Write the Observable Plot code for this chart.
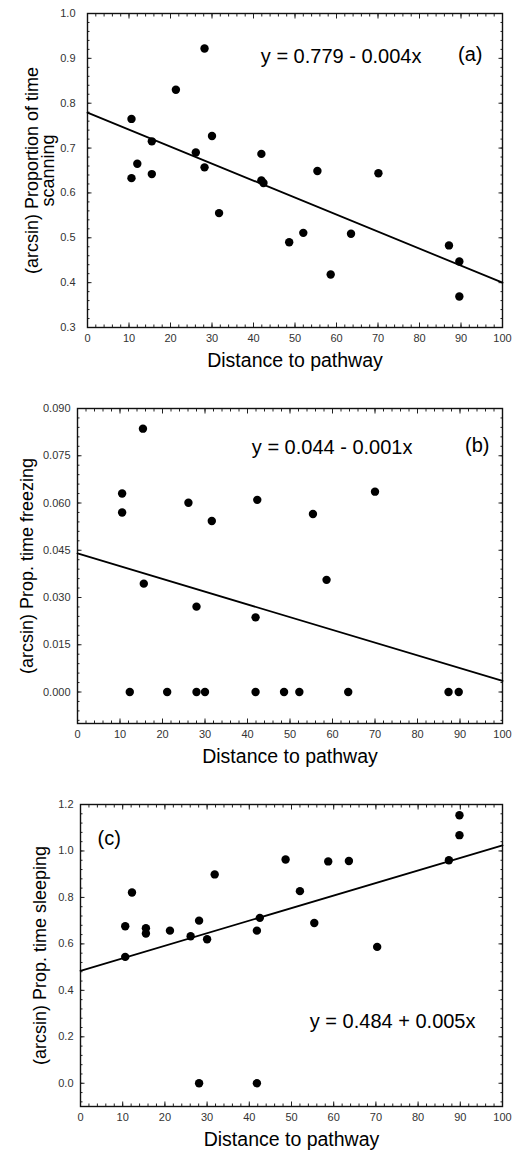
<!DOCTYPE html>
<html><head><meta charset="utf-8">
<script src="https://cdn.jsdelivr.net/npm/d3@7"></script>
<script src="https://cdn.jsdelivr.net/npm/@observablehq/plot@0.6"></script>
<style>
body{margin:0;background:#fff;}
#c svg{display:block;}
</style></head><body><div id="c"></div>
<script>
// ---- data ----
const distA = [10.6,10.6,12.0,15.5,15.5,21.3,26.1,28.2,28.2,30.0,31.7,41.9,41.9,42.4,48.6,52.0,55.4,58.6,63.5,70.1,87.1,89.6,89.6];
const scanA = [0.765,0.633,0.665,0.715,0.642,0.830,0.690,0.922,0.657,0.727,0.555,0.687,0.628,0.622,0.490,0.511,0.649,0.418,0.509,0.644,0.483,0.447,0.369];

const distB = [10.5,10.5,12.3,15.4,15.6,21.1,26.1,28.0,28.0,30.0,31.6,42.3,41.9,41.9,48.6,52.2,55.4,58.6,63.7,70.0,87.3,89.7];
const freezeB = [0.063,0.057,0,0.0836,0.0344,0,0.0601,0.0271,0,0,0.0543,0.061,0.0237,0,0,0,0.0565,0.0356,0,0.0636,0,0];

const distC = [10.6,10.6,12.2,15.5,15.5,21.2,26.1,28.1,28.1,30.0,31.8,41.8,41.8,42.5,48.6,52.0,55.4,58.7,63.6,70.3,87.3,89.8,89.8];
const sleepC = [0.676,0.544,0.821,0.667,0.645,0.657,0.633,0.700,0,0.620,0.899,0.657,0,0.712,0.963,0.827,0.690,0.955,0.957,0.587,0.960,1.068,1.154];

// fitted regression lines (intercept, slope as drawn)
const fitIntercepts = [0.779, 0.044, 0.484];
const fitSlopes = [-0.00379, -0.000405, 0.0054];
const fitRange = [0, 100];

const equations = ["y = 0.779 - 0.004x", "y = 0.044 - 0.001x", "y = 0.484 + 0.005x"];
const panelTags = ["(a)", "(b)", "(c)"];
const yLabels = ["(arcsin) Proportion of time\nscanning", "(arcsin) Prop. time freezing", "(arcsin) Prop. time sleeping"];
const xLabel = "Distance to pathway";

const xTicks = [0,10,20,30,40,50,60,70,80,90,100];
const yTicksA = [0.3,0.4,0.5,0.6,0.7,0.8,0.9,1.0];
const yTicksB = [0,0.015,0.030,0.045,0.060,0.075,0.090];
const yTicksC = [0,0.2,0.4,0.6,0.8,1.0,1.2];

// ---- drawing ----
function minor(ticks, extLo, extHi) {
  const step = (ticks[1]-ticks[0])/5;
  const out = [];
  for (let v = ticks[0]; v <= extHi + 1e-9; v += step) out.push(+v.toFixed(6));
  for (let v = ticks[0]-step; v >= extLo - 1e-9; v -= step) out.push(+v.toFixed(6));
  return out;
}

function panel(cfg) {
  const rows = cfg.xs.map((x,i)=>({x, y: cfg.ys[i]}));
  const fit = fitRange.map(x=>({x, y: fitIntercepts[cfg.k] + fitSlopes[cfg.k]*x}));
  const xm = minor(xTicks, 0, 100);
  const ym = minor(cfg.yTicks, cfg.yDomain[0], cfg.yDomain[1]);
  const T = 4.5, t = 2.5;
  const inward = (kind, anchor, vals, size) => {
    const o = {anchor, tickSize: size, tickFormat: () => "", label: null, stroke: "#222", strokeWidth: 1};
    if (kind === "x") { o.dy = anchor === "bottom" ? -size : size; return Plot.axisX(vals, o); }
    o.dx = anchor === "left" ? size : -size; return Plot.axisY(vals, o);
  };
  return Plot.plot({
    width: 519, height: cfg.height,
    marginTop: cfg.mt, marginBottom: cfg.mb, marginLeft: cfg.ml, marginRight: cfg.mr,
    style: {fontFamily: "'Liberation Sans', Arial, sans-serif", fontSize: "11px", color: "#222", background: "#fff"},
    x: {domain: [0,100], label: null},
    y: {domain: cfg.yDomain, label: null},
    marks: [
      Plot.axisX(xTicks, {anchor: "bottom", tickSize: 0, tickPadding: 7, label: null, fill: "#333", fontSize: 11}),
      Plot.axisY(cfg.yTicks, {anchor: "left", tickSize: 0, tickPadding: cfg.pad, tickFormat: d3.format(cfg.fmt), label: null, fill: "#333", fontSize: 11}),
      inward("x","bottom",xTicks,T), inward("x","top",xTicks,T),
      inward("x","bottom",xm,t), inward("x","top",xm,t),
      inward("y","left",cfg.yTicks,T), inward("y","right",cfg.yTicks,T),
      inward("y","left",ym,t), inward("y","right",ym,t),
      Plot.frame({stroke: "#111", strokeWidth: 1.4}),
      Plot.line(fit, {x: "x", y: "y", stroke: "#000", strokeWidth: 1.8}),
      Plot.dot(rows, {x: "x", y: "y", r: 4.2, fill: "#000", stroke: null}),
      Plot.text([equations[cfg.k]], {text: d=>d, ...cfg.eq, fontSize: 20, fill: "#000"}),
      Plot.text([panelTags[cfg.k]], {text: d=>d, ...cfg.tag, fontSize: 20, fill: "#000"}),
      Plot.text([yLabels[cfg.k]], {text: d=>d, frameAnchor: "left", textAnchor: "middle", lineAnchor: "middle", dx: cfg.ylx, rotate: -90, fontSize: 18, lineHeight: 0.92, fill: "#000"}),
      Plot.text([xLabel], {text: d=>d, frameAnchor: "bottom", textAnchor: "middle", dy: 39, fontSize: 19.5, fill: "#000"})
    ]
  });
}

const host = document.getElementById("c");
host.append(panel({k:0, xs: distA, ys: scanA, yTicks: yTicksA, yDomain: [0.3,1.0], fmt: ".1f",
  height: 380, mt: 13, mb: 53, ml: 87, mr: 17, pad: 12, ylx: -47,
  eq: {frameAnchor: "top-right", textAnchor: "end", dx: -81, dy: 35},
  tag: {frameAnchor: "top-right", textAnchor: "end", dx: -20, dy: 33}}));
host.append(panel({k:1, xs: distB, ys: freezeB, yTicks: yTicksB, yDomain: [-0.01,0.09], fmt: ".3f",
  height: 400, mt: 28, mb: 57, ml: 77, mr: 17, pad: 7, ylx: -50,
  eq: {frameAnchor: "top-right", textAnchor: "end", dx: -90, dy: 31},
  tag: {frameAnchor: "top-right", textAnchor: "end", dx: -13, dy: 29}}));
host.append(panel({k:2, xs: distC, ys: sleepC, yTicks: yTicksC, yDomain: [-0.1,1.2], fmt: ".1f",
  height: 373, mt: 24, mb: 47, ml: 80, mr: 17, pad: 7, ylx: -40,
  eq: {frameAnchor: "bottom-right", textAnchor: "end", dx: -27, dy: -79},
  tag: {frameAnchor: "top-left", textAnchor: "start", dx: 17, dy: 26}}));
</script></body></html>
